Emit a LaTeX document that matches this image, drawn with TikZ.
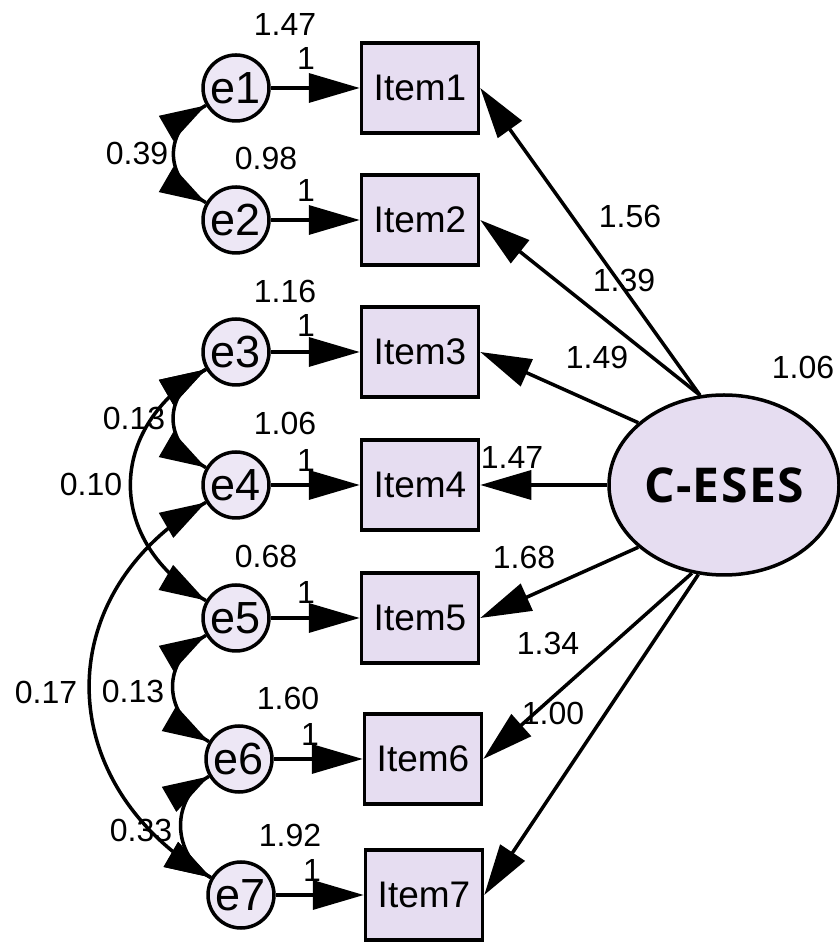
\documentclass[tikz,border=0pt]{standalone}
\usepackage{fontspec}
\setmainfont{Liberation Sans}
\newfontfamily\latentfont[LetterSpace=3]{Open Sans}
\usetikzlibrary{arrows.meta,shapes.geometric,decorations.markings}
\definecolor{boxfill}{RGB}{230,221,241}
\definecolor{errfill}{RGB}{237,231,245}
\tikzset{
  item/.style={draw,line width=3.5pt,fill=boxfill,minimum width=117pt,minimum height=90pt,inner sep=0pt,font=\fontsize{37}{37}\selectfont},
  err/.style={draw,circle,line width=3.5pt,fill=errfill,minimum size=66pt,inner sep=0pt,font=\fontsize{45}{45}\selectfont},
  num/.style={inner sep=0pt,font=\fontsize{32}{32}\selectfont},
  reg/.style={line width=3.5pt,-{Triangle[length=51pt,width=29pt]}},
  cov/.style={line width=3.5pt,postaction={decorate},decoration={markings,
    mark=at position 0 with {\arrowreversed{Triangle[length=46pt,width=28pt]}},
    mark=at position 0.999 with {\arrow{Triangle[length=46pt,width=28pt]}}}}
}
\begin{document}
\begin{tikzpicture}[x=1pt,y=1pt]
\useasboundingbox (0,0) rectangle (840,942);
\foreach \i/\x/\y in {1/236/854,2/236/722,3/236/590,4/236/457,5/236/324,6/239/183,7/241/47}
  \node[err] (e\i) at (\x,\y) {e\i};
\foreach \i/\x/\y in {1/420/854,2/420/722,3/420/590,4/420/457,5/420/324,6/423/183,7/424/47}
  \node[item] (it\i) at (\x,\y) {Item\i};
\node[draw,ellipse,line width=3.5pt,fill=boxfill,minimum width=230pt,minimum height=180pt,inner sep=0pt,
  font={\latentfont\bfseries\fontsize{48}{48}\selectfont}] (ceses) at (724,457) {C-ESES};

\foreach \i in {1,...,7}
  \draw[reg] (e\i) -- (it\i);
\foreach \i/\x/\y in {1/306/883,2/306/751,3/306/616,4/306/482,5/306/350,6/310/208,7/312/72}
  \node[num] (one\i) at (\x,\y) {1};
\foreach \i/\v/\x/\y in {1/1.47/285/917,2/0.98/266/784,3/1.16/285/651,4/1.06/285/519,5/0.68/266/386,6/1.60/288/244,7/1.92/290/107}
  \node[num] (var\i) at (\x,\y) {\v};
\node[num] (var0) at (803,575) {1.06};

\foreach \i/\a in {1/105,2/105,3/144,4/180,5/216,6/250,7/254}
  \draw[reg] (ceses.\a) -- (it\i.east);
\foreach \i/\v/\x/\y in {1/1.56/630/726,2/1.39/624/662,3/1.49/597/585,4/1.47/512/485,5/1.68/524/385,6/1.34/548/299,7/1.00/553/229}
  \node[num] (ld\i) at (\x,\y) {\v};

% covariances
\draw[cov] (e1.210) to[out=210,in=150,looseness=1.32] (e2.150);
\draw[cov] (e3.210) to[out=210,in=150,looseness=1.32] (e4.150);
\draw[cov] (e3.210) to[out=210,in=150,looseness=1.29] (e5.150);
\draw[cov] (e4.210) to[out=210,in=150,looseness=1.25] (e7.150);
\draw[cov] (e5.210) to[out=210,in=150,looseness=1.29] (e6.150);
\draw[cov] (e6.210) to[out=210,in=150,looseness=1.14] (e7.150);
\foreach \i/\v/\x/\y in {1/0.39/137/789,2/0.13/134/524,3/0.10/91/458,4/0.17/46/250,5/0.13/133/251,6/0.33/141/112}
  \node[num] (cv\i) at (\x,\y) {\v};
\end{tikzpicture}
\end{document}
